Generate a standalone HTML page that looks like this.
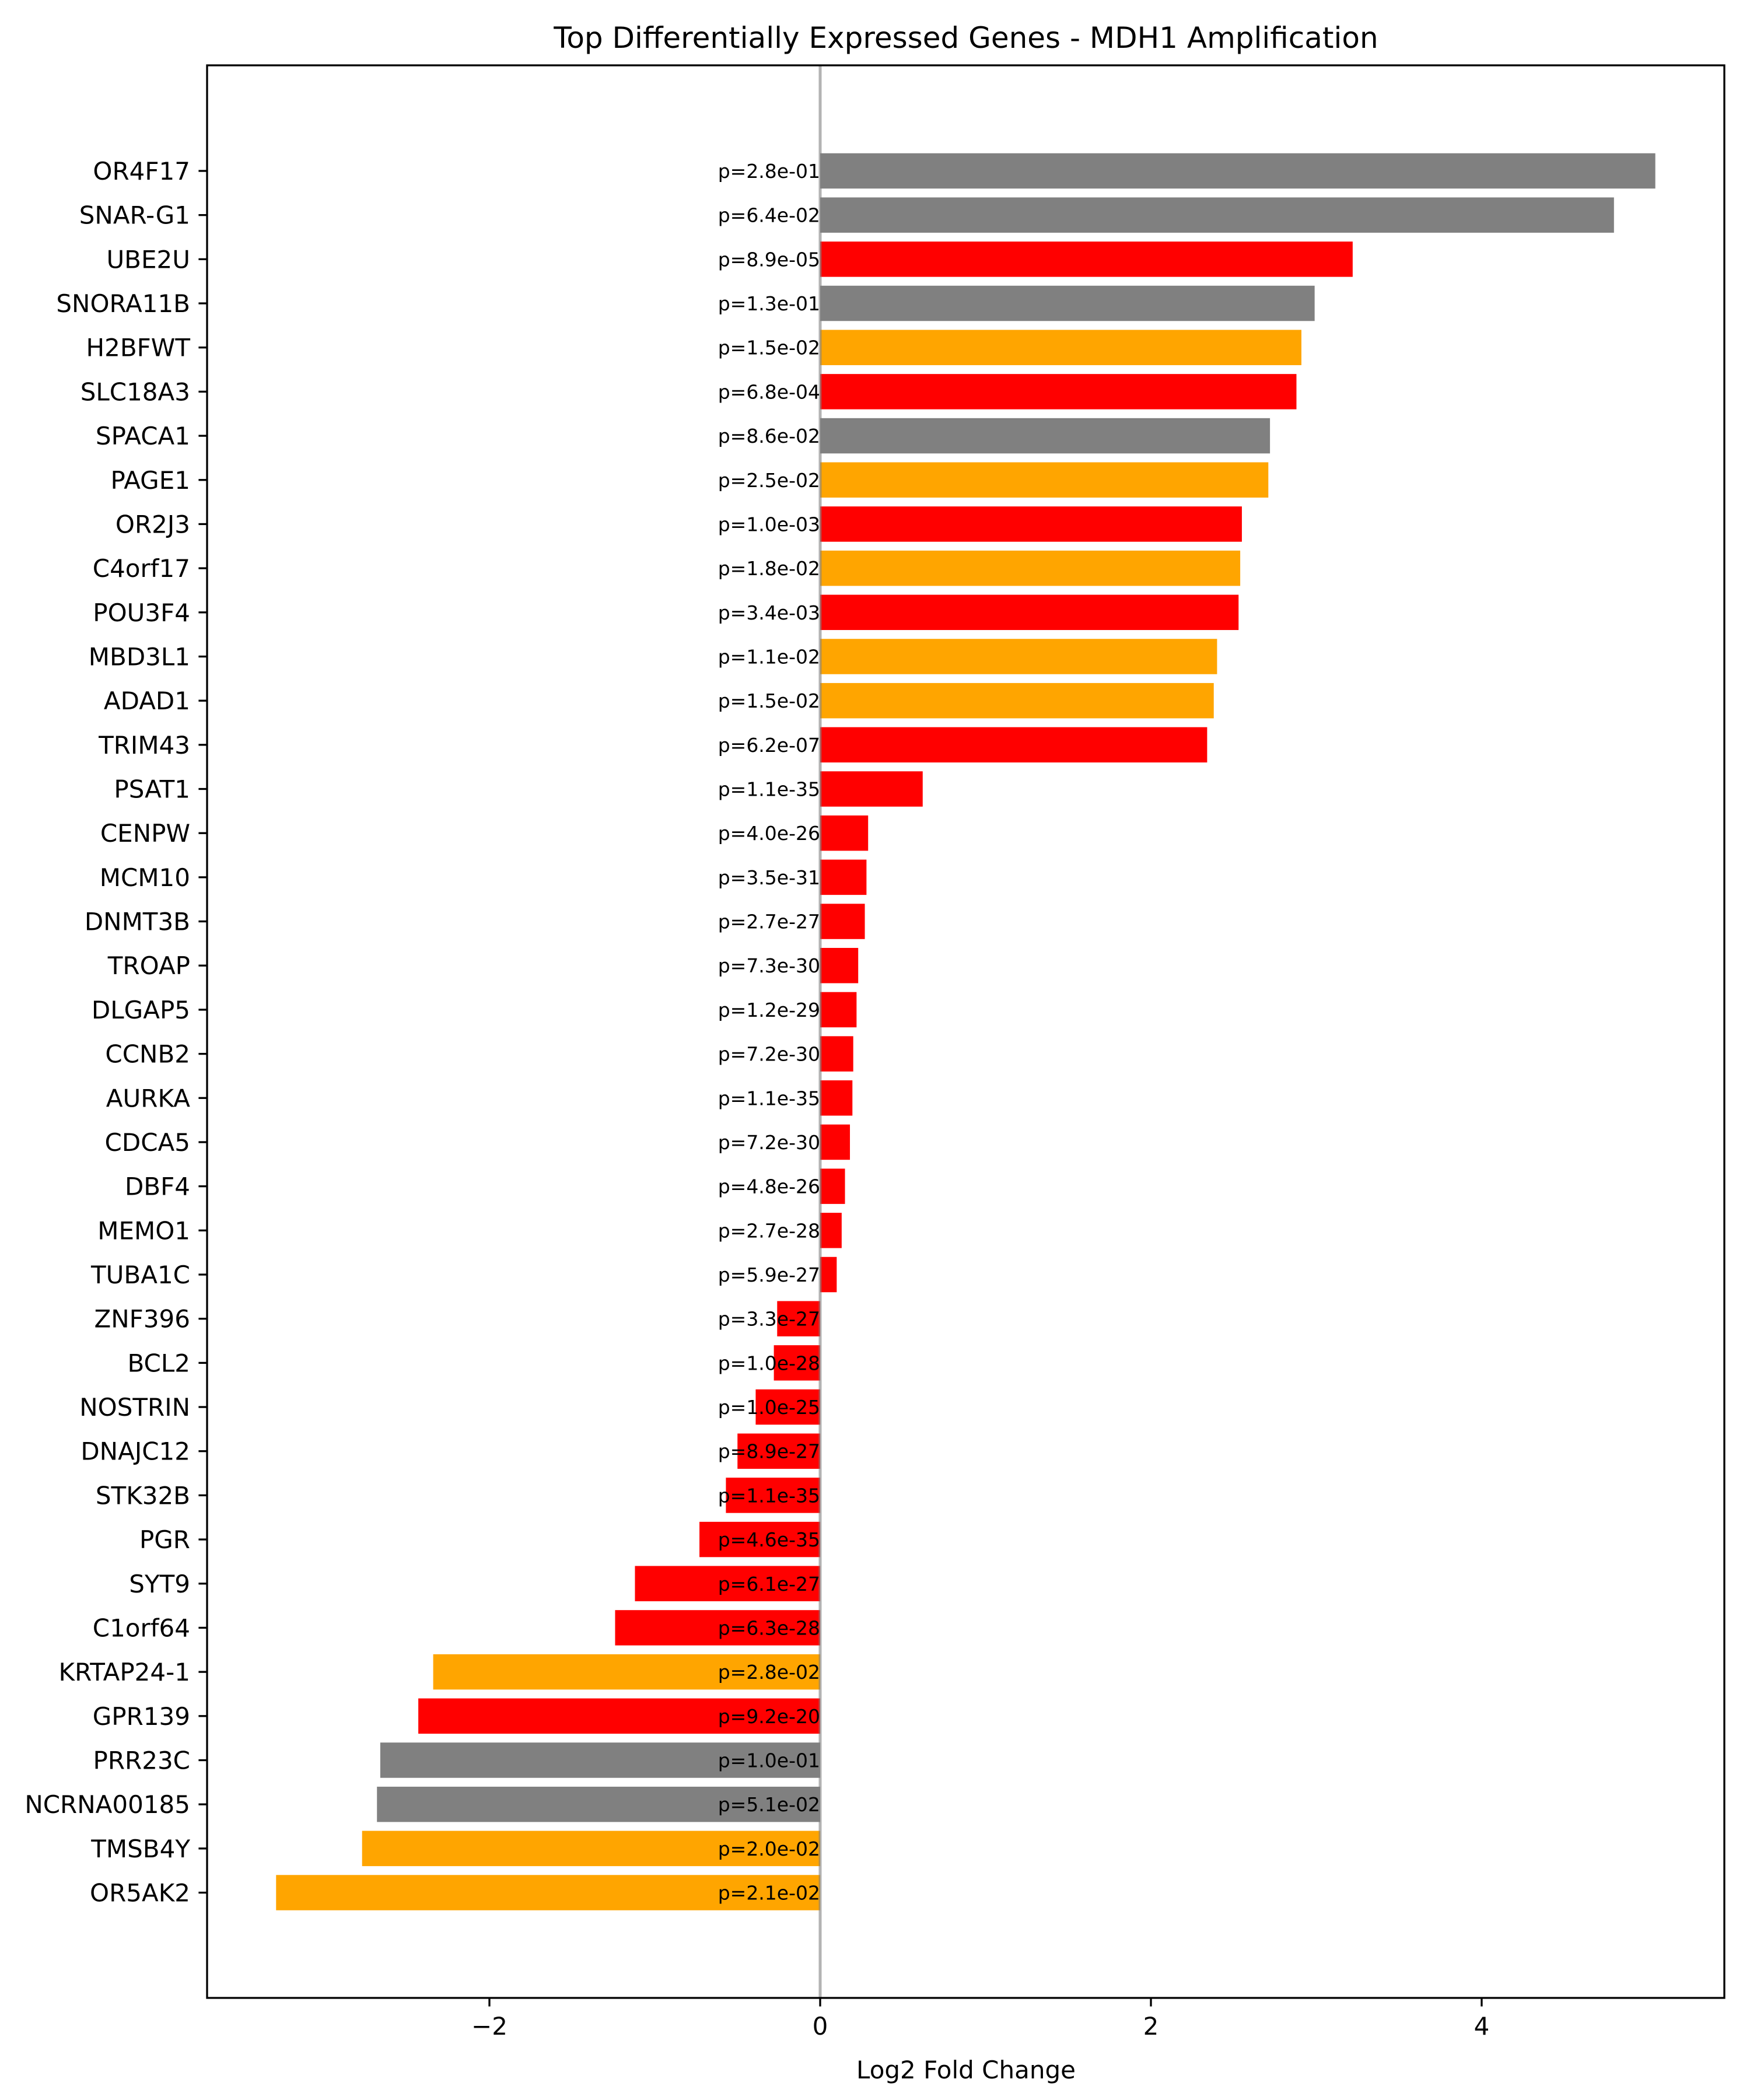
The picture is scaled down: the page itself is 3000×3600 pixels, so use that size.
<!DOCTYPE html>
<html><head><meta charset="utf-8"><style>html,body{margin:0;padding:0;background:#fff}svg{display:block}text{font-family:"DejaVu Sans","Liberation Sans",sans-serif}</style></head>
<body>
<svg id="chart" width="3000" height="3600" xmlns="http://www.w3.org/2000/svg">
<rect width="3000" height="3600" fill="#fff"/>
<text x="1656" y="82" font-size="50" text-anchor="middle">Top Differentially Expressed Genes - MDH1 Amplification</text>
<g id="bars"></g>
<g id="labels"></g>
<g id="yaxis"></g>
<g id="xaxis"></g>
<text x="1656" y="3563" font-size="42" text-anchor="middle">Log2 Fold Change</text>
</svg>
<script>
const genes=["OR4F17","SNAR-G1","UBE2U","SNORA11B","H2BFWT","SLC18A3","SPACA1","PAGE1","OR2J3","C4orf17","POU3F4","MBD3L1","ADAD1","TRIM43","PSAT1","CENPW","MCM10","DNMT3B","TROAP","DLGAP5","CCNB2","AURKA","CDCA5","DBF4","MEMO1","TUBA1C","ZNF396","BCL2","NOSTRIN","DNAJC12","STK32B","PGR","SYT9","C1orf64","KRTAP24-1","GPR139","PRR23C","NCRNA00185","TMSB4Y","OR5AK2"];
const logfc=[5.05,4.80,3.22,2.99,2.91,2.88,2.72,2.71,2.55,2.54,2.53,2.40,2.38,2.34,0.62,0.29,0.28,0.27,0.23,0.22,0.20,0.195,0.18,0.15,0.13,0.10,-0.26,-0.28,-0.39,-0.50,-0.57,-0.73,-1.12,-1.24,-2.34,-2.43,-2.66,-2.68,-2.77,-3.29];
const pvals=["2.8e-01","6.4e-02","8.9e-05","1.3e-01","1.5e-02","6.8e-04","8.6e-02","2.5e-02","1.0e-03","1.8e-02","3.4e-03","1.1e-02","1.5e-02","6.2e-07","1.1e-35","4.0e-26","3.5e-31","2.7e-27","7.3e-30","1.2e-29","7.2e-30","1.1e-35","7.2e-30","4.8e-26","2.7e-28","5.9e-27","3.3e-27","1.0e-28","1.0e-25","8.9e-27","1.1e-35","4.6e-35","6.1e-27","6.3e-28","2.8e-02","9.2e-20","1.0e-01","5.1e-02","2.0e-02","2.1e-02"];
const categories=["g","g","r","g","o","r","g","o","r","o","r","o","o","r","r","r","r","r","r","r","r","r","r","r","r","r","r","r","r","r","r","r","r","r","o","r","g","g","o","o"];
const xticks=[-2,0,2,4];
const colorMap={g:"#808080",r:"#ff0000",o:"#ffa500"};
const L=355,R=2956,T=112,B=3425;
const zeroPx=1406,unitPx=283.5;
function xs(v){return zeroPx+v*unitPx;}
const step=75.68,firstY=293,bh=60.5;
function ys(i){return firstY+i*step;}
const NS="http://www.w3.org/2000/svg";
function mk(tag,attrs,parent,txt){const e=document.createElementNS(NS,tag);for(const k in attrs)e.setAttribute(k,attrs[k]);if(txt!==undefined)e.textContent=txt;parent.appendChild(e);return e;}
const gb=document.getElementById('bars'),gl=document.getElementById('labels'),gy=document.getElementById('yaxis'),gx=document.getElementById('xaxis');
genes.forEach((g,i)=>{
  const a=xs(0),b=xs(logfc[i]);
  const r=mk('rect',{x:Math.min(a,b),y:ys(i)-bh/2,width:Math.abs(b-a),height:bh,fill:colorMap[categories[i]]},gb);
  
  
});
const zl=mk('line',{x1:xs(0),x2:xs(0),y1:T,y2:B,stroke:"#808080","stroke-opacity":0.6,"stroke-width":5},gb);


genes.forEach((g,i)=>{
  const t=mk('text',{x:xs(0),y:ys(i)+12,"font-size":33,"text-anchor":"end"},gl,"p="+pvals[i]);
  
  
  const tk=mk('line',{x1:L-14.6,x2:L,y1:ys(i),y2:ys(i),stroke:"#000","stroke-width":3.3},gy);
  
  
  const lb=mk('text',{x:L-29,y:ys(i)+15,"font-size":42,"text-anchor":"end"},gy,g);
  
  
});
xticks.forEach(v=>{
  const tk=mk('line',{x1:xs(v),x2:xs(v),y1:B,y2:B+14.6,stroke:"#000","stroke-width":3.3},gx);
  
  
  const lb=mk('text',{x:xs(v),y:B+63,"font-size":42,"text-anchor":"middle"},gx,v<0?"\u2212"+(-v):String(v));
  
  
});
const fr=mk('rect',{x:L,y:T,width:R-L,height:B-T,fill:"none",stroke:"#000","stroke-width":3.3},document.getElementById('chart'));


</script>
</body></html>
